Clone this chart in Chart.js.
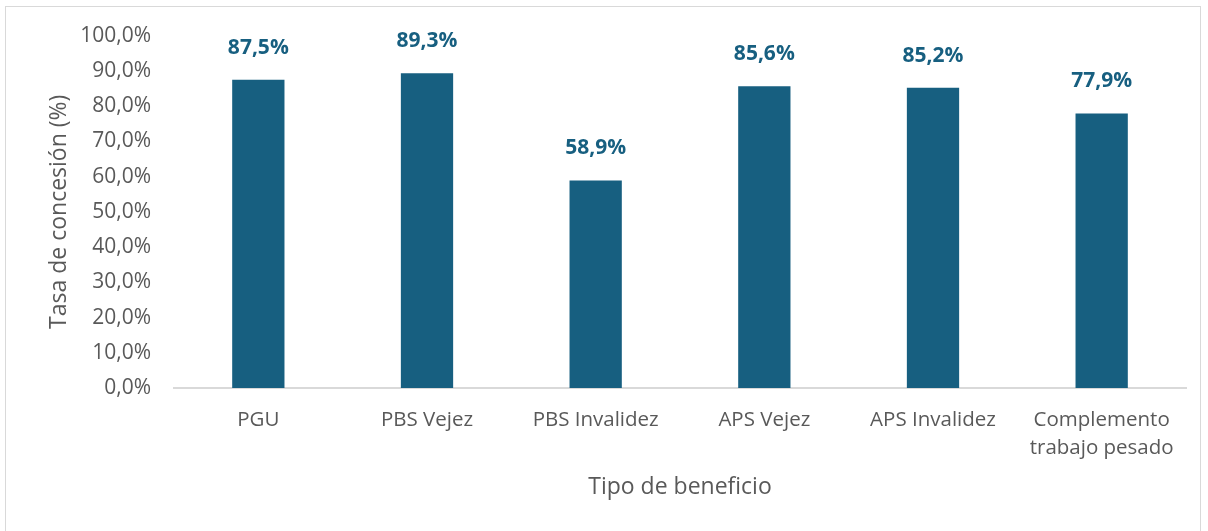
<!DOCTYPE html>
<html>
<head>
<meta charset="utf-8">
<script src="https://cdn.jsdelivr.net/npm/chart.js@4"></script>
<style>
  body { margin: 0; background: #fff; }
  #wrap { position: relative; width: 1208px; height: 531px; overflow: hidden; }
  #frame { position: absolute; left: 5px; top: 6px; width: 1194px; height: 540px; border: 1px solid #d9d9d9; }
  canvas { position: absolute; left: 0; top: 0; }
</style>
</head>
<body>
<div id="wrap">
  <div id="frame"></div>
  <canvas id="chart" width="1208" height="531"></canvas>
</div>
<script>
'use strict';

// Categories and values
var categories = ['PGU', 'PBS Vejez', 'PBS Invalidez', 'APS Vejez', 'APS Invalidez', ['Complemento', 'trabajo pesado']];
var tasas = [87.5, 89.3, 58.9, 85.6, 85.2, 77.9];
var yTicks = [0, 10, 20, 30, 40, 50, 60, 70, 80, 90, 100];

var barColor = '#175f80';
var textGray = '#595959';
var fontFamily = '"Open Sans", "Noto Sans", sans-serif';

function pct(v, dec) {
  return v.toFixed(dec).replace('.', ',') + '%';
}

// Draws the value above every bar, like the data labels in the original.
var valueLabels = {
  id: 'valueLabels',
  afterDatasetsDraw: function (chart) {
    var ctx = chart.ctx;
    var meta = chart.getDatasetMeta(0);
    ctx.save();
    ctx.font = 'bold 21px ' + fontFamily;
    ctx.fillStyle = barColor;
    ctx.textAlign = 'center';
    ctx.textBaseline = 'middle';
    meta.data.forEach(function (bar, i) {
      ctx.fillText(pct(tasas[i], 1), bar.x, bar.y - 32);
    });
    ctx.restore();
  }
};

new Chart(document.getElementById('chart').getContext('2d'), {
  type: 'bar',
  data: {
    labels: categories,
    datasets: [{
      data: tasas,
      backgroundColor: barColor,
      categoryPercentage: 1,
      barPercentage: 0.31
    }]
  },
  options: {
    responsive: false,
    animation: false,
    layout: { padding: { left: 46, right: 22, top: 35, bottom: 30 } },
    plugins: {
      legend: { display: false },
      tooltip: { enabled: false }
    },
    scales: {
      x: {
        grid: { display: false, drawTicks: false },
        border: { display: true, color: '#d9d9d9', width: 2 },
        ticks: {
          color: textGray,
          padding: 18,
          maxRotation: 0,
          autoSkip: false,
          font: { family: fontFamily, size: 20.5, lineHeight: 1.37 }
        },
        title: {
          display: true,
          text: 'Tipo de beneficio',
          color: textGray,
          padding: 0,
          font: { family: fontFamily, size: 23, lineHeight: 1.2 }
        },
        afterFit: function (scale) { scale.height = 113; }
      },
      y: {
        min: 0,
        max: 100,
        afterBuildTicks: function (scale) {
          scale.ticks = yTicks.map(function (v) { return { value: v }; });
        },
        grid: { display: false, drawTicks: false },
        border: { display: false },
        ticks: {
          color: textGray,
          padding: 23,
          font: { family: fontFamily, size: 21 },
          callback: function (v) { return pct(v, 1); }
        },
        title: {
          display: true,
          text: 'Tasa de concesión (%)',
          color: textGray,
          padding: 0,
          font: { family: fontFamily, size: 23, lineHeight: 1.2 }
        },
        afterFit: function (scale) { scale.width = 128; }
      }
    }
  },
  plugins: [valueLabels]
});
</script>
</body>
</html>
